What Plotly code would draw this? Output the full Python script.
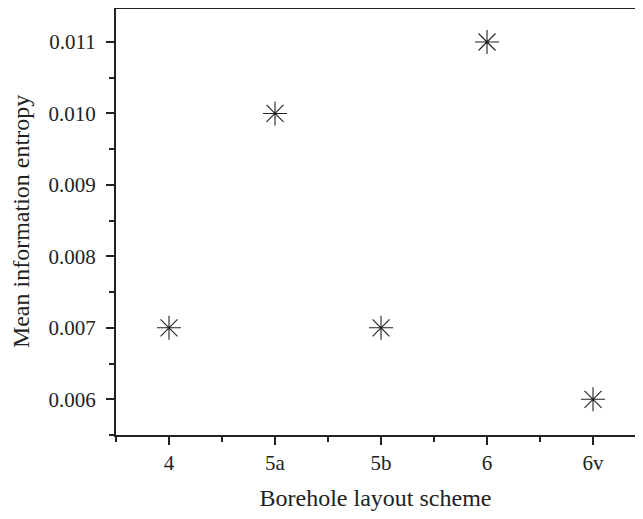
import plotly.graph_objects as go

categories = ["4", "5a", "5b", "6", "6v"]
entropy = [0.007, 0.010, 0.007, 0.011, 0.006]
y_ticks = [0.006, 0.007, 0.008, 0.009, 0.010, 0.011]

xpos = list(range(len(categories)))

fig = go.Figure(go.Scatter(
    x=xpos, y=entropy, mode="markers",
    marker=dict(symbol="asterisk-open", size=20, color="#222",
                line=dict(color="#222", width=1.1)),
    showlegend=False,
))

font = dict(family="Liberation Serif, Times New Roman, serif", color="#222")
fig.update_layout(
    width=627, height=503,
    margin=dict(l=108, r=0, t=0, b=76),
    paper_bgcolor="white", plot_bgcolor="white",
    font=dict(size=21, **font),
)
# cover any right-edge frame line, then draw the top frame line
fig.add_shape(type="line", xref="paper", yref="paper", x0=1, x1=1, y0=0.005, y1=0.995,
              line=dict(color="white", width=6), layer="above")
fig.add_shape(type="line", xref="paper", yref="paper", x0=0, x1=1, y0=1, y1=1,
              line=dict(color="#222", width=2), layer="above")
fig.update_xaxes(
    range=[-0.5, 4.396], tickvals=xpos, ticktext=categories,
    showline=True, linewidth=2, linecolor="#222", mirror=False,
    ticks="outside", ticklen=8, tickwidth=2, tickcolor="#222",
    minor=dict(tickvals=[-0.5, 0.5, 1.5, 2.5, 3.5], ticks="outside", ticklen=5, tickwidth=2, tickcolor="#222", showgrid=False),
    showgrid=False, zeroline=False,
    tickfont=dict(size=21, **font),
    title=dict(text="Borehole layout scheme", font=dict(size=24, **font), standoff=18),
)
fig.update_yaxes(
    range=[0.0055, 0.011476], tickvals=y_ticks, tickformat=".3f",
    showline=True, linewidth=2, linecolor="#222", mirror=False, side="left",
    ticks="outside", ticklen=8, tickwidth=2, tickcolor="#222",
    ticklabelstandoff=6,
    minor=dict(dtick=0.0005, tick0=0.0055, ticks="outside", ticklen=5, tickwidth=2, tickcolor="#222", showgrid=False),
    showgrid=False, zeroline=False,
    tickfont=dict(size=21, **font),
    title=dict(text="Mean information entropy", font=dict(size=24, **font), standoff=14),
)
fig.write_html("out.html")
